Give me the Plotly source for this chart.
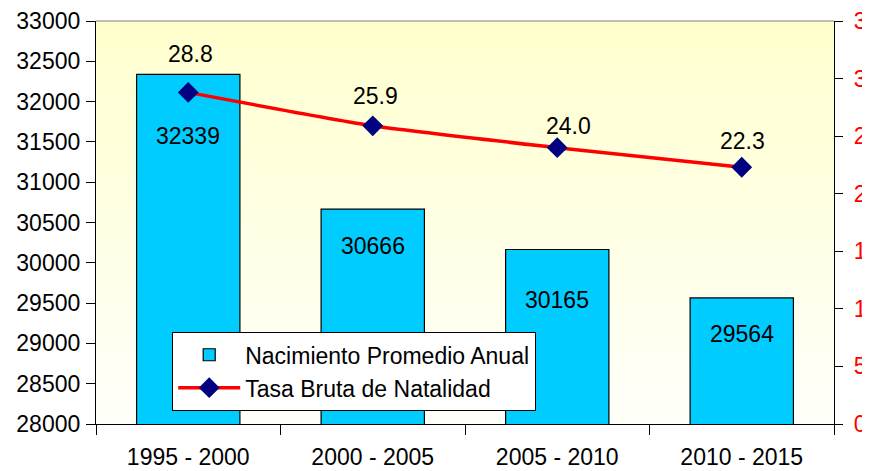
# -*- coding: utf-8 -*-

# Nacimientos promedio anual y tasa bruta de natalidad por quinquenio

import plotly.graph_objects as go

# datos
periodos = ['1995 - 2000', '2000 - 2005', '2005 - 2010', '2010 - 2015']
nacimientos = [32339, 30666, 30165, 29564]
tasa_natalidad = [28.8, 25.9, 24.0, 22.3]

# desplazamiento (px) de las etiquetas como en el original
desp_barras = [-62, -37, -50, -36]
desp_tasa = [38, 30, 22, 26]
desp_tasa_x = [2, 3, 11, 1]

fuente = 'Liberation Sans, Arial, sans-serif'

fig = go.Figure()

fig.add_trace(go.Bar(x=periodos, y=nacimientos, name='Nacimiento Promedio Anual',
                     marker=dict(color='#00CCFF', line=dict(color='black', width=1.2)),
                     width=0.56))

fig.add_trace(go.Scatter(x=periodos, y=tasa_natalidad, name='Tasa Bruta de Natalidad',
                         yaxis='y2', mode='lines+markers',
                         line=dict(color='#FF0000', width=3.5, shape='spline', smoothing=0.6),
                         marker=dict(symbol='diamond', size=16, color='#000080')))

# etiquetas de datos
anotaciones = []
for p, v, d in zip(periodos, nacimientos, desp_barras):
    anotaciones.append(dict(x=p, y=v, xref='x', yref='y', text=str(v), showarrow=False,
                            yshift=d, font=dict(size=23, color='black', family=fuente)))
for p, v, d, dx in zip(periodos, tasa_natalidad, desp_tasa, desp_tasa_x):
    anotaciones.append(dict(x=p, y=v, xref='x', yref='y2', text='%.1f' % v, showarrow=False,
                            yshift=d, xshift=dx, font=dict(size=23, color='black', family=fuente)))

# fondo degradado del area de trazado
formas = []
n = 80
for i in range(n):
    t = i / (n - 1)
    b = int(round(250 - (250 - 204) * t))
    formas.append(dict(type='rect', xref='paper', yref='paper', x0=0, x1=1,
                       y0=i / n, y1=(i + 1) / n, layer='below', line=dict(width=0),
                       fillcolor='rgb(255,255,%d)' % b))
formas.append(dict(type='line', xref='paper', yref='paper', x0=0, x1=1, y0=1, y1=1,
                   line=dict(color='#808080', width=1.2)))

fig.update_layout(
    width=870, height=471,
    margin=dict(l=88, r=44, t=13, b=55, autoexpand=False),
    paper_bgcolor='white', plot_bgcolor='white',
    font=dict(family=fuente, size=23, color='black'),
    showlegend=True,
    legend=dict(x=0.103, y=0.228, xanchor='left', yanchor='top',
                bgcolor='white', bordercolor='black', borderwidth=1.2,
                font=dict(size=23), tracegroupgap=0, itemwidth=62),
    xaxis=dict(type='category', showline=True, linecolor='black', linewidth=1.2,
               ticks='outside', ticklen=10, tickcolor='black', tickson='boundaries',
               showgrid=False, tickfont=dict(size=23), automargin=False,
               ticklabelstandoff=12),
    yaxis=dict(range=[28000, 33000], dtick=500, tickformat='d', showline=True,
               linecolor='black', linewidth=1.2, ticks='outside', ticklen=9,
               tickcolor='black', showgrid=False, zeroline=False,
               tickfont=dict(size=23), automargin=False, ticklabelstandoff=1),
    yaxis2=dict(range=[0, 35], dtick=5, overlaying='y', side='right', showline=True,
                linecolor='black', linewidth=1.2, ticks='outside', ticklen=8,
                tickcolor='black', showgrid=False, zeroline=False,
                tickfont=dict(size=23, color='#FF0000'), automargin=False,
                ticklabelstandoff=6),
    annotations=anotaciones,
    shapes=formas,
    bargap=0.44,
)

fig.write_html("out.html")
